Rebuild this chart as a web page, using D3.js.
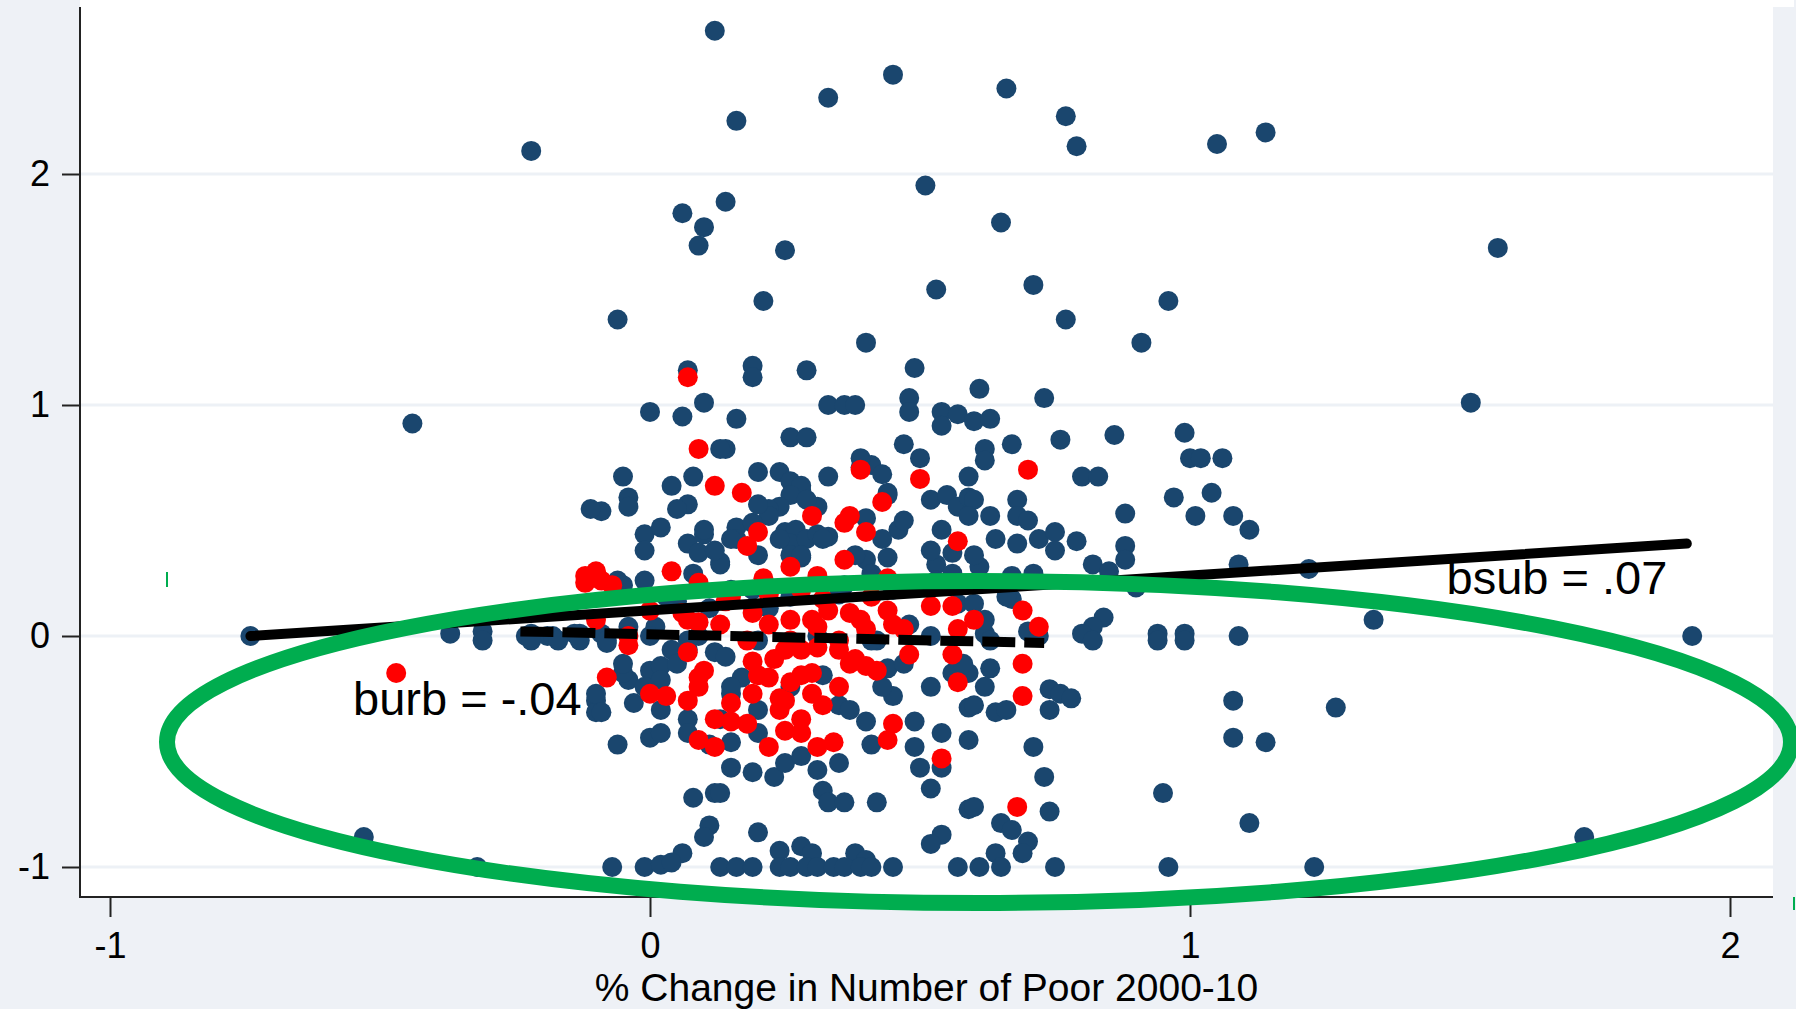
<!DOCTYPE html>
<html>
<head>
<meta charset="utf-8">
<script src="https://cdn.jsdelivr.net/npm/d3@7"></script>
<style>
  html, body { margin: 0; padding: 0; background: #eef1f6; }
  svg { display: block; }
  text { font-family: "Liberation Sans", Arial, Helvetica, sans-serif; }
</style>
</head>
<body>
<div id="chart"></div>
<script>
const width = 1796, height = 1009;

// ticks
const xTicks = [-1, 0, 1, 2];
const yTicks = [-1, 0, 1, 2];

// suburban tracts (navy)
const bluePts = [
  [0.12,2.62],[0.16,2.23],[0.33,2.33],[0.45,2.43],[0.66,2.37],[0.77,2.25],[0.79,2.12],[0.51,1.95],
  [0.06,1.83],[0.10,1.77],[0.14,1.88],[0.09,1.69],[0.25,1.67],[0.65,1.79],[0.21,1.45],[0.53,1.50],
  [0.71,1.52],[0.77,1.37],[0.96,1.45],[0.91,1.27],[-0.06,1.37],[0.40,1.27],[0.07,1.15],[0.19,1.17],
  [0.19,1.12],[0.29,1.15],[0.49,1.16],[0.61,1.07],[0.73,1.03],[0.00,0.97],[0.06,0.95],[0.10,1.01],
  [0.16,0.94],[0.33,1.00],[0.36,1.00],[0.38,1.00],[0.48,1.03],[0.48,0.97],[0.54,0.97],[0.57,0.96],
  [0.60,0.93],[0.63,0.94],[0.54,0.91],[0.14,0.81],[0.26,0.86],[0.29,0.86],[0.47,0.83],[0.50,0.77],
  [0.62,0.81],[0.62,0.76],[0.67,0.83],[0.76,0.85],[0.86,0.87],[0.99,0.88],[1.00,0.77],[-0.05,0.69],
  [0.04,0.65],[0.08,0.69],[0.20,0.71],[0.24,0.71],[0.26,0.67],[0.28,0.63],[0.33,0.69],[0.39,0.73],
  [0.41,0.74],[0.43,0.70],[0.59,0.69],[0.80,0.69],[0.83,0.69],[0.44,0.61],[0.97,0.60],[1.05,2.13],
  [1.14,2.18],[1.57,1.68],[1.52,1.01],[1.06,0.77],[1.02,0.77],[1.04,0.62],[-0.22,2.10],[-0.44,0.92],
  [0.39,0.77],[0.28,0.65],[0.26,0.61],[0.24,0.56],[0.44,0.62],[0.52,0.59],[0.55,0.61],[0.57,0.56],
  [0.59,0.60],[0.22,0.55],[0.22,0.52],[0.31,0.56],[0.29,0.59],[0.40,0.51],[0.46,0.46],[0.16,0.47],
  [0.19,0.49],[0.20,0.35],[0.16,0.42],[0.25,0.45],[0.27,0.46],[0.26,0.40],[0.29,0.42],[0.31,0.44],
  [0.33,0.43],[0.26,0.35],[0.28,0.34],[0.40,0.33],[0.44,0.34],[0.53,0.31],[0.56,0.36],[0.54,0.46],
  [0.13,0.31],[0.53,0.24],[0.57,0.14],
  [0.13,0.81],[-0.04,0.60],[-0.04,0.56],[-0.09,0.54],[0.07,0.57],[-0.01,0.44],[0.07,0.40],[0.10,0.44],
  [0.09,0.36],[0.13,0.32],[-0.06,0.24],[-0.01,0.24],[-0.31,0.02],[-0.22,0.01],[-0.13,0.01],[-0.04,0.04],
  [0.01,0.04],
  [1.01,0.52],[0.88,0.53],[0.68,0.59],[0.68,0.52],[0.70,0.50],[0.63,0.52],[0.60,0.59],[0.59,0.52],
  [0.68,0.40],[0.72,0.42],[0.75,0.45],[0.79,0.41],[0.88,0.39],[0.88,0.33],[0.82,0.31],[0.85,0.28],
  [0.61,0.30],[0.67,0.26],[0.90,0.21],[0.60,0.14],[0.67,0.16],[0.84,0.08],[0.82,0.04],[0.62,0.01],
  [0.70,0.02],[0.80,0.01],[0.94,0.01],[0.99,0.01],
  [1.08,0.52],[1.11,0.46],[1.09,0.31],[1.22,0.29],[1.34,0.07],[1.93,0.00],[1.09,0.00],[1.08,-0.28],
  [1.27,-0.31],[1.08,-0.44],[1.14,-0.46],[1.11,-0.81],[1.23,-1.00],[1.73,-0.87],
  [-0.74,0.00],[-0.37,0.01],[-0.23,0.00],[-0.19,0.00],[-0.18,0.00],[-0.14,0.01],[-0.09,0.01],[-0.11,0.55],
  [-0.10,-0.28],[-0.10,-0.33],[-0.53,-0.87],[-0.32,-1.00],
  [-0.31,-0.02],[-0.22,-0.02],[-0.17,-0.02],[-0.13,-0.02],[-0.08,-0.03],[0.04,-0.06],[0.07,-0.06],[0.12,-0.07],
  [-0.04,-0.19],[-0.05,-0.16],[0.00,-0.15],[0.02,-0.13],[0.02,-0.19],[-0.10,-0.25],[-0.09,-0.33],[-0.03,-0.29],
  [0.07,-0.36],[0.07,-0.42],[0.00,-0.44],[0.02,-0.42],[-0.06,-0.47],[0.08,-0.70],[0.12,-0.68],[0.11,-0.82],
  [0.10,-0.87],[0.06,-0.94],[-0.07,-1.00],[-0.01,-1.00],[0.02,-0.99],[0.04,-0.98],[0.13,-1.00],
  [0.14,-0.09],[0.17,-0.18],[0.44,-0.14],[0.45,-0.26],[0.56,-0.16],[0.59,-0.31],[0.40,-0.37],[0.49,-0.37],
  [0.49,-0.48],[0.59,-0.45],[0.15,-0.46],[0.20,-0.42],[0.13,-0.36],[0.15,-0.57],[0.19,-0.59],[0.23,-0.61],
  [0.25,-0.55],[0.31,-0.58],[0.35,-0.55],[0.32,-0.67],[0.33,-0.72],[0.36,-0.72],[0.42,-0.72],[0.50,-0.57],
  [0.54,-0.57],[0.52,-0.66],[0.13,-0.68],[0.59,-0.75],[0.20,-0.85],[0.54,-0.86],[0.52,-0.90],[0.24,-0.93],
  [0.28,-0.91],[0.30,-0.94],[0.38,-0.94],[0.40,-0.97],
  [0.16,-1.00],[0.19,-1.00],[0.24,-1.00],[0.26,-1.00],[0.29,-1.00],[0.31,-1.00],[0.34,-1.00],[0.36,-1.00],
  [0.39,-1.00],[0.41,-1.00],[0.45,-1.00],[0.57,-1.00],
  [0.82,-0.02],[0.94,-0.02],[0.99,-0.02],[0.63,-0.14],[0.59,-0.16],[0.74,-0.23],[0.76,-0.25],[0.78,-0.27],
  [0.74,-0.32],[0.60,-0.30],[0.64,-0.33],[0.71,-0.48],[0.73,-0.61],[0.95,-0.68],[0.60,-0.74],
  [0.74,-0.76],[0.65,-0.81],[0.67,-0.84],[0.70,-0.89],[0.69,-0.94],[0.64,-0.94],[0.61,-1.00],[0.65,-1.00],
  [0.75,-1.00],[0.96,-1.00],
  [0.00,0.00],[0.09,0.00],[0.20,-0.02],[0.31,0.00],[0.42,-0.02],[0.52,0.00],[0.63,-0.02],[0.72,0.00],
  [0.05,0.15],[0.15,0.20],[0.22,0.12],[0.35,0.18],[0.45,0.20],[0.48,0.05],[0.15,-0.25],[0.35,-0.30],[0.27,0.20],
  [0.05,0.55],[0.10,0.46],[0.12,0.37],[0.08,0.27],[0.15,0.42],[0.20,0.57],[0.24,0.42],[0.28,0.35],
  [0.32,0.42],[0.38,0.35],[0.43,0.42],[0.47,0.50],[0.52,0.37],[0.56,0.27],[0.60,0.35],[0.64,0.42],
  [0.41,0.27],[0.36,0.22],[0.26,0.17],[0.19,0.20],[0.11,0.12],[0.03,0.17],[-0.05,0.22],[-0.01,0.37],
  [0.02,0.47],[-0.08,-0.02],[-0.05,-0.12],[-0.01,-0.22],[0.02,-0.32],[0.05,-0.12],[0.15,-0.22],[0.20,-0.32],
  [0.26,-0.22],[0.32,-0.17],[0.37,-0.32],[0.43,-0.22],[0.47,-0.12],[0.52,-0.22],[0.58,-0.12],[0.62,-0.22],
  [0.66,-0.32],[0.11,-0.47],[0.28,-0.52],[0.41,-0.47],[0.54,-0.42],[0.07,-0.02],[0.41,-0.02],[0.62,0.07],
  [0.66,0.17],[0.71,0.27],[0.75,0.37]
];

// urban tracts (red)
const redPts = [
  [0.07,1.12],[0.09,0.81],[0.12,0.65],[0.17,0.62],[0.39,0.72],[0.50,0.68],[0.43,0.58],[0.30,0.52],
  [0.36,0.49],[0.40,0.45],[0.20,0.45],[0.18,0.39],[0.36,0.33],[0.26,0.30],[0.31,0.26],[0.21,0.25],
  [0.57,0.41],[0.70,0.72],[-0.12,0.26],[-0.10,0.28],[-0.12,0.23],[-0.09,0.24],[-0.07,0.22],[0.04,0.28],
  [0.09,0.23],[0.06,0.10],[0.09,0.06],[-0.10,0.07],[-0.04,0.00],[0.19,0.10],[0.26,0.07],[0.33,0.11],
  [0.31,0.04],[0.39,0.07],[0.44,0.11],[0.40,0.03],[0.47,0.03],[0.56,0.13],[0.57,0.03],[0.52,0.13],
  [0.69,0.11],[0.60,0.07],[0.72,0.04],[-0.47,-0.16],[-0.04,-0.04],[0.07,-0.07],[-0.08,-0.18],[0.10,-0.15],
  [0.09,-0.18],[0.00,-0.25],[0.03,-0.26],[0.07,-0.28],[0.12,-0.36],[0.09,-0.45],[0.12,-0.48],
  [0.19,-0.11],[0.23,-0.10],[0.25,-0.06],[0.28,-0.06],[0.31,-0.05],[0.35,-0.06],[0.38,-0.10],[0.40,-0.13],
  [0.42,-0.15],[0.22,-0.18],[0.26,-0.20],[0.30,-0.16],[0.30,-0.25],[0.35,-0.22],[0.25,-0.28],[0.19,-0.25],
  [0.15,-0.29],[0.18,-0.38],[0.24,-0.32],[0.25,-0.41],[0.28,-0.36],[0.22,-0.48],[0.31,-0.48],[0.34,-0.46],
  [0.48,-0.08],[0.56,-0.08],[0.57,-0.20],[0.45,-0.38],[0.44,-0.45],[0.54,-0.53],[0.69,-0.12],[0.69,-0.26],
  [0.68,-0.74],[0.00,0.11],[0.32,0.16],[0.37,0.10],[0.44,0.25],[0.37,0.52],[0.14,0.15],[0.22,0.18],
  [0.13,0.05],[0.18,-0.02],[0.22,0.05],[0.26,-0.02],[0.30,0.07],[0.35,-0.02],[0.20,-0.17],[0.28,-0.17],
  [0.37,-0.12],[0.24,-0.27],[0.32,-0.30],[0.07,0.07],[0.15,0.17],[0.28,0.20],[0.41,0.17],[0.45,0.05],
  [0.09,-0.22],[0.15,-0.37],[0.28,-0.42]
];

// fitted lines (end points)
const subFitX = [-0.74, 1.92], subFitY = [0.00, 0.40];
const urbFitX = [-0.24, 0.73], urbFitY = [0.02, -0.03];

const labels = [
  { text: "bsub = .07", x: 1.475, y: 0.18 },
  { text: "burb = -.04", x: -0.55, y: -0.34 }
];

const svg = d3.select("#chart").append("svg")
  .attr("width", width)
  .attr("height", height);

svg.append("rect")
  .attr("width", width).attr("height", height)
  .attr("fill", "#eef1f6");

// plot region
const plot = { left: 80, right: 1773, top: 7, bottom: 897 };
svg.append("rect")
  .attr("x", plot.left).attr("y", 0)
  .attr("width", 1794 - plot.left).attr("height", plot.top)
  .attr("fill", "#fff");
svg.append("rect")
  .attr("x", plot.left).attr("y", plot.top)
  .attr("width", plot.right - plot.left).attr("height", plot.bottom - plot.top)
  .attr("fill", "#fff");

const x = d3.scaleLinear().domain([-1, 2]).range([110, 1730]);
const y = d3.scaleLinear().domain([-1, 2]).range([867, 174]);

// gridlines
svg.append("g")
  .selectAll("line")
  .data(yTicks)
  .join("line")
  .attr("x1", plot.left).attr("x2", plot.right)
  .attr("y1", d => y(d)).attr("y2", d => y(d))
  .attr("stroke", "#edf1f6")
  .attr("stroke-width", 3);

// axes
const yAxis = svg.append("g")
  .attr("transform", `translate(${plot.left},0)`)
  .call(d3.axisLeft(y).tickValues(yTicks).tickSize(18).tickPadding(12).tickFormat(d3.format("d")));
const xAxis = svg.append("g")
  .attr("transform", `translate(0,${plot.bottom})`)
  .call(d3.axisBottom(x).tickValues(xTicks).tickSize(20).tickPadding(15).tickFormat(d3.format("d")));

[xAxis, yAxis].forEach(g => {
  g.select(".domain").remove();
  g.selectAll(".tick line").attr("stroke", "#222").attr("stroke-width", 2);
  g.selectAll(".tick text")
    .attr("fill", "#000")
    .style("font-size", "36px")
    .text(d => d < 0 ? "-" + Math.abs(d) : d);
});

svg.append("line")
  .attr("x1", plot.left).attr("x2", plot.left)
  .attr("y1", plot.top).attr("y2", plot.bottom + 1)
  .attr("stroke", "#222").attr("stroke-width", 2);
svg.append("line")
  .attr("x1", plot.left).attr("x2", plot.right)
  .attr("y1", plot.bottom).attr("y2", plot.bottom)
  .attr("stroke", "#222").attr("stroke-width", 2);

svg.append("text")
  .attr("x", (plot.left + plot.right) / 2)
  .attr("y", 1001)
  .attr("text-anchor", "middle")
  .style("font-size", "39px")
  .attr("fill", "#000")
  .text("% Change in Number of Poor 2000-10");

// points
const R = 10;
svg.append("g")
  .selectAll("circle")
  .data(bluePts)
  .join("circle")
  .attr("cx", d => x(d[0]))
  .attr("cy", d => y(d[1]))
  .attr("r", R)
  .attr("fill", "#1a466e");

svg.append("g")
  .selectAll("circle")
  .data(redPts)
  .join("circle")
  .attr("cx", d => x(d[0]))
  .attr("cy", d => y(d[1]))
  .attr("r", R)
  .attr("fill", "#ff0000");

// fit lines
const line = d3.line().x(d => x(d[0])).y(d => y(d[1]));
svg.append("path")
  .attr("d", line(d3.zip(subFitX, subFitY)))
  .attr("fill", "none")
  .attr("stroke", "#000")
  .attr("stroke-width", 10)
  .attr("stroke-linecap", "round");
svg.append("path")
  .attr("d", line(d3.zip(urbFitX, urbFitY)))
  .attr("fill", "none")
  .attr("stroke", "#000")
  .attr("stroke-width", 10)
  .attr("stroke-dasharray", "33,9");

// labels
svg.append("g")
  .selectAll("text")
  .data(labels)
  .join("text")
  .attr("x", d => x(d.x))
  .attr("y", d => y(d.y))
  .style("font-size", "47px")
  .attr("fill", "#000")
  .text(d => d.text);

// green ellipse overlay
svg.append("ellipse")
  .attr("cx", 979).attr("cy", 742)
  .attr("rx", 812).attr("ry", 161)
  .attr("fill", "none")
  .attr("stroke", "#00ad4f")
  .attr("stroke-width", 16);

// small handle marks
svg.append("line")
  .attr("x1", 167).attr("x2", 167).attr("y1", 572).attr("y2", 587)
  .attr("stroke", "#00ad4f").attr("stroke-width", 2);
svg.append("line")
  .attr("x1", 1794).attr("x2", 1794).attr("y1", 897).attr("y2", 910)
  .attr("stroke", "#00ad4f").attr("stroke-width", 2);
</script>
</body>
</html>
